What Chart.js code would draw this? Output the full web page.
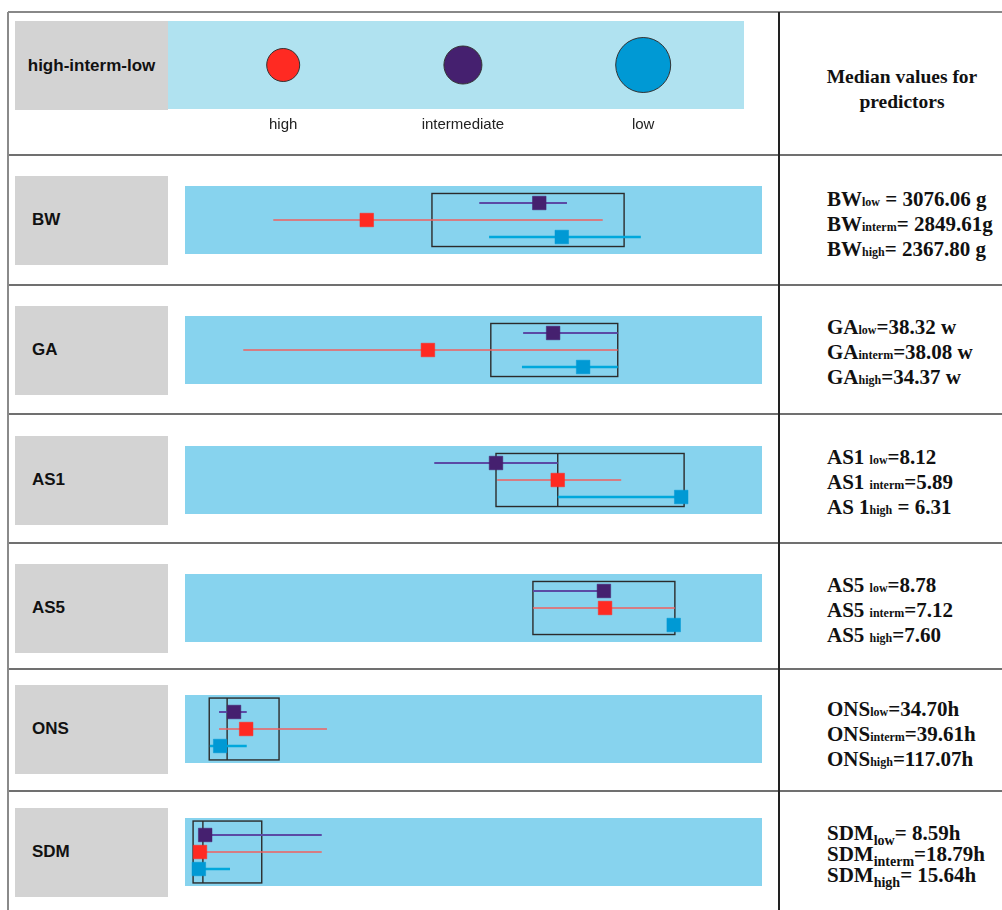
<!DOCTYPE html>
<html>
<head>
<meta charset="utf-8">
<script src="https://cdn.jsdelivr.net/npm/chart.js@4.4.1/dist/chart.umd.min.js"></script>
<style>
    body { margin: 0; background: #fff; width: 1002px; height: 910px; overflow: hidden; position: relative;
           font-family: "Liberation Sans", Arial, sans-serif; }
    .hline { position: absolute; left: 8px; right: 0; height: 2px; background: #707070; }
    .vline { position: absolute; top: 12px; bottom: 0; width: 2px; }
    .lab { position: absolute; left: 15px; width: 153px; height: 89px; background: #d3d3d3; box-sizing: border-box;
           font-weight: bold; font-size: 17px; color: #111; display: flex; align-items: center; padding-left: 17px; }
    .med { position: absolute; left: 827px; font-family: "Liberation Serif", "Times New Roman", serif;
           font-weight: bold; font-size: 21px; line-height: 25px; color: #111; white-space: nowrap; }
    .med .s { font-size: 12px; line-height: 0; }
    .med.low-sub .s { font-size: 14px; vertical-align: -5px; }
    .head { position: absolute; left: 790px; width: 224px; top: 64px; text-align: center;
            font-family: "Liberation Serif", "Times New Roman", serif; font-weight: bold; font-size: 19.5px;
            line-height: 25px; color: #111; }
    canvas { position: absolute; }
</style>
</head>
<body>
<div id="page"></div>
<script>
// ---- data (positions read along each band, 0 = left end, 100 = right end) ----
const predictors = ['BW', 'GA', 'AS1', 'AS5', 'ONS', 'SDM'];
const groups = ['intermediate', 'high', 'low'];        // top-to-bottom order inside a band

const intermMed = [61.4, 63.8, 53.9, 72.6, 8.5, 3.5];
const intermLo  = [51.0, 58.6, 43.2, 60.3, 5.9, 3.5];
const intermHi  = [66.2, 75.0, 64.6, 72.6, 10.7, 23.7];

const highMed = [31.5, 42.1, 64.6, 72.8, 10.6, 2.6];
const highLo  = [15.3, 10.1, 54.1, 60.3, 5.9, 2.6];
const highHi  = [72.4, 75.0, 75.6, 84.9, 24.6, 23.7];

const lowMed = [65.3, 69.0, 86.0, 84.7, 6.1, 2.4];
const lowLo  = [52.7, 58.4, 64.6, 84.7, 4.3, 2.4];
const lowHi  = [79.0, 75.0, 86.0, 84.7, 10.7, 7.8];

const boxFrom  = [42.8, 53.0, 53.9, 60.3, 4.2, 1.4];
const boxSplit = [null, null, 64.6, null, 7.3, 3.1];
const boxTo    = [76.1, 75.0, 86.5, 84.9, 16.3, 13.3];

// legend (header row)
const legendLabels = ['high', 'intermediate', 'low'];
const legendX = [20, 51.2, 82.5];

// median values column
const namesLow = ['BW', 'GA', 'AS1 ', 'AS5 ', 'ONS', 'SDM'];
const namesInterm = ['BW', 'GA', 'AS1 ', 'AS5 ', 'ONS', 'SDM'];
const namesHigh = ['BW', 'GA', 'AS 1', 'AS5 ', 'ONS', 'SDM'];
const lowText = [' = 3076.06 g', '=38.32 w', '=8.12', '=8.78', '=34.70h', '= 8.59h'];
const intermText = ['= 2849.61g', '=38.08 w', '=5.89', '=7.12', '=39.61h', '=18.79h'];
const highText = ['= 2367.80 g', '=34.37 w', ' = 6.31', '=7.60', '=117.07h', '= 15.64h'];

// ---- layout ----
const rowLines = [12, 155, 285, 414, 543, 669, 791];
const rowMid = [220, 350, 480, 608, 729, 852];
const bandLeft = 185, bandWidth = 577, bandHeight = 68;

const markColor = { high: '#ff2a22', intermediate: '#45206f', low: '#0099d4' };
const lineColor = { high: '#f0605f', intermediate: '#5b4aa5', low: '#00a8dc' };
const lineWidth = { high: 1.5, intermediate: 2, low: 2.5 };

const page = document.getElementById('page');

function addDiv(cls, style, html) {
    const d = document.createElement('div');
    d.className = cls;
    Object.assign(d.style, style);
    if (html) d.innerHTML = html;
    page.appendChild(d);
    return d;
}

function addCanvas(left, top, w, h) {
    const c = document.createElement('canvas');
    c.width = w; c.height = h;
    c.style.left = left + 'px'; c.style.top = top + 'px';
    c.style.width = w + 'px'; c.style.height = h + 'px';
    page.appendChild(c);
    return c;
}

// table lines
rowLines.forEach((y, i) => addDiv('hline', { top: (y - 1) + 'px', background: i === 0 ? '#888' : '#707070' }));
addDiv('vline', { left: '7px', background: '#8a8a8a', width: '1.5px' });
addDiv('vline', { left: '778px', background: '#222' });

// band background plugin
const bandFill = {
    id: 'bandFill',
    beforeDraw(chart, args, opts) {
        const a = chart.chartArea;
        chart.ctx.save();
        chart.ctx.fillStyle = opts.color;
        chart.ctx.fillRect(a.left, a.top, a.right - a.left, a.bottom - a.top);
        chart.ctx.restore();
    }
};

// rectangles around the overlapping ranges
const rangeBoxes = {
    id: 'rangeBoxes',
    beforeDatasetsDraw(chart, args, opts) {
        const xs = chart.scales.x, ys = chart.scales.y, ctx = chart.ctx;
        const top = ys.getPixelForValue(2 - opts.half), bottom = ys.getPixelForValue(2 + opts.half);
        ctx.save();
        ctx.strokeStyle = '#2b2b2b';
        ctx.lineWidth = 1.4;
        const l = xs.getPixelForValue(opts.from), r = xs.getPixelForValue(opts.to);
        ctx.strokeRect(l, top, r - l, bottom - top);
        if (opts.split != null) {
            const s = xs.getPixelForValue(opts.split);
            ctx.beginPath();
            ctx.moveTo(s, top);
            ctx.lineTo(s, bottom);
            ctx.stroke();
        }
        ctx.restore();
    }
};

// ---- header row ----
addDiv('lab', { top: '21px', justifyContent: 'center', paddingLeft: '0' }, 'high-interm-low');
addDiv('head', {}, 'Median values for<br>predictors');

new Chart(addCanvas(168, 21, 576, 120), {
    type: 'scatter',
    data: {
        datasets: [{
            data: legendX.map(x => ({ x: x, y: 0 })),
            pointRadius: [16.5, 19, 27.5],
            pointBackgroundColor: legendLabels.map(g => markColor[g]),
            pointBorderColor: '#333',
            pointBorderWidth: 1
        }]
    },
    options: {
        responsive: false,
        animation: false,
        events: [],
        layout: { padding: 0, autoPadding: false },
        plugins: { legend: { display: false }, tooltip: { enabled: false }, bandFill: { color: '#b0e2f0' } },
        scales: {
            x: {
                type: 'linear', min: 0, max: 100,
                grid: { display: false, drawTicks: false },
                border: { display: false },
                afterBuildTicks: (scale) => { scale.ticks = legendX.map(v => ({ value: v })); },
                ticks: {
                    padding: 7, autoSkip: false, maxRotation: 0,
                    color: '#222', font: { family: 'Liberation Sans, Arial', size: 15 },
                    callback: (v, i) => legendLabels[i]
                }
            },
            y: { display: false, min: -1, max: 1 }
        }
    },
    plugins: [bandFill]
});

// ---- predictor rows ----
const groupData = {
    intermediate: [intermLo, intermMed, intermHi],
    high: [highLo, highMed, highHi],
    low: [lowLo, lowMed, lowHi]
};

predictors.forEach((name, i) => {
    const mid = rowMid[i];
    addDiv('lab', { top: (mid - 44.5) + 'px' }, name);

    const lines = [
        [namesLow[i], 'low', lowText[i]],
        [namesInterm[i], 'interm', intermText[i]],
        [namesHigh[i], 'high', highText[i]]
    ];
    const lh = name === 'SDM' ? 21 : 25;
    const shift = name === 'ONS' ? 5 : name === 'BW' ? 4 : 2;
    addDiv('med' + (name === 'SDM' ? ' low-sub' : ''),
        { top: (mid - lh * 1.5 + shift) + 'px', lineHeight: lh + 'px' },
        lines.map(l => `${l[0]}<span class="s">${l[1]}</span>${l[2]}`).join('<br>'));

    const datasets = groups.map((g, gi) => {
        const [lo, md, hi] = groupData[g];
        return {
            type: 'line',
            data: [{ x: lo[i], y: gi + 1 }, { x: md[i], y: gi + 1 }, { x: hi[i], y: gi + 1 }],
            borderColor: lineColor[g],
            borderWidth: lineWidth[g],
            pointStyle: 'rect',
            pointRadius: [0, 9.6, 0],
            pointBackgroundColor: markColor[g],
            pointBorderColor: markColor[g],
            pointBorderWidth: 0.5,
            fill: false,
            tension: 0
        };
    });

    const wide = name === 'ONS' || name === 'SDM';
    new Chart(addCanvas(bandLeft, mid - bandHeight / 2, bandWidth, bandHeight), {
        type: 'scatter',
        data: { datasets: datasets },
        options: {
            responsive: false,
            animation: false,
            events: [],
            layout: { padding: 0, autoPadding: false },
            plugins: {
                legend: { display: false },
                tooltip: { enabled: false },
                bandFill: { color: '#87d3ee' },
                rangeBoxes: { from: boxFrom[i], to: boxTo[i], split: boxSplit[i], half: wide ? 1.82 : 1.56 }
            },
            scales: {
                x: { type: 'linear', display: false, min: 0, max: 100 },
                y: { type: 'linear', display: false, min: 0, max: 4, reverse: true }
            },
            clip: false
        },
        plugins: [bandFill, rangeBoxes]
    });
});
</script>
</body>
</html>
